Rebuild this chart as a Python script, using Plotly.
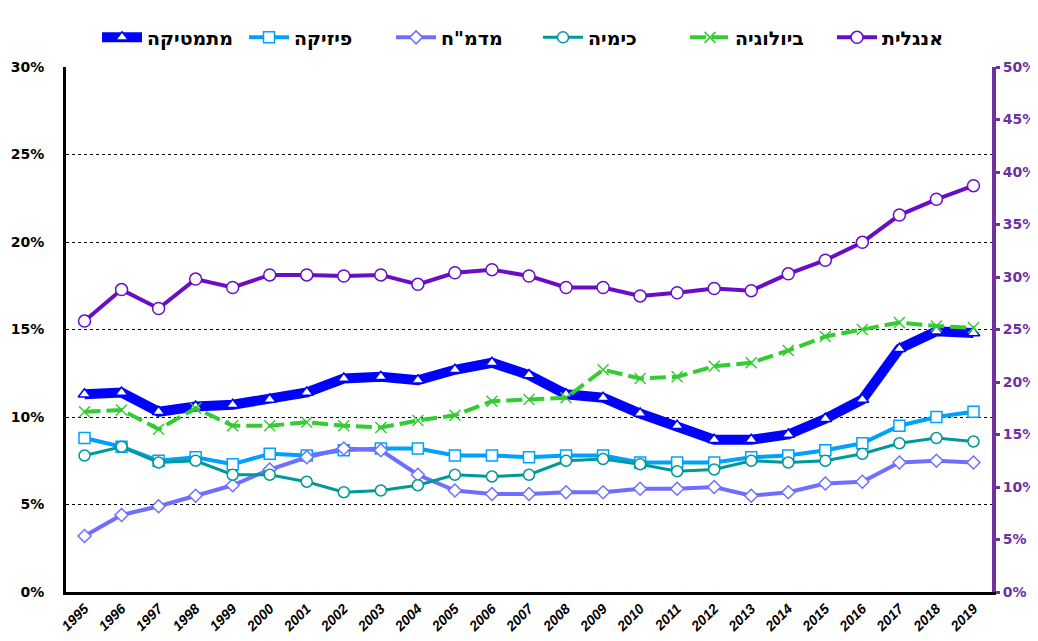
import plotly.graph_objects as go

years = [str(y) for y in range(1995, 2020)]

math_vals = [11.3, 11.4, 10.3, 10.6, 10.7, 11.0, 11.4, 12.2, 12.3, 12.1, 12.7, 13.1, 12.4,
             11.3, 11.1, 10.2, 9.5, 8.7, 8.7, 9.0, 9.9, 11.0, 13.9, 14.9, 14.8]
physics_vals = [8.8, 8.3, 7.5, 7.7, 7.3, 7.9, 7.8, 8.1, 8.2, 8.2, 7.8, 7.8, 7.7,
                7.8, 7.8, 7.4, 7.4, 7.4, 7.7, 7.8, 8.1, 8.5, 9.5, 10.0, 10.3]
cs_vals = [3.2, 4.4, 4.9, 5.5, 6.1, 7.0, 7.7, 8.2, 8.1, 6.7, 5.8, 5.6, 5.6,
           5.7, 5.7, 5.9, 5.9, 6.0, 5.5, 5.7, 6.2, 6.3, 7.4, 7.5, 7.4]
chem_vals = [7.8, 8.3, 7.4, 7.5, 6.7, 6.7, 6.3, 5.7, 5.8, 6.1, 6.7, 6.6, 6.7,
             7.5, 7.6, 7.3, 6.9, 7.0, 7.5, 7.4, 7.5, 7.9, 8.5, 8.8, 8.6]
bio_vals = [10.3, 10.4, 9.3, 10.5, 9.5, 9.5, 9.7, 9.5, 9.4, 9.8, 10.1, 10.9, 11.0,
            11.1, 12.7, 12.2, 12.3, 12.9, 13.1, 13.8, 14.6, 15.0, 15.4, 15.2, 15.1]
eng_vals = [25.8, 28.8, 27.0, 29.8, 29.0, 30.2, 30.2, 30.1, 30.2, 29.3, 30.4, 30.7, 30.1,
            29.0, 29.0, 28.2, 28.5, 28.9, 28.7, 30.3, 31.6, 33.3, 35.9, 37.4, 38.7]

names = ["מתמטיקה", "פיזיקה", 'מדמ"ח', "כימיה", "ביולוגיה", "אנגלית"]

fig = go.Figure()

def pct(v):
    return [x / 100 for x in v]

fig.add_trace(go.Scatter(x=years, y=pct(math_vals), name=names[0], mode="lines+markers",
                         line=dict(color="#0000FF", width=10),
                         marker=dict(symbol="triangle-up", size=11, color="white",
                                     line=dict(color="#0000FF", width=1.5))))
fig.add_trace(go.Scatter(x=years, y=pct(physics_vals), name=names[1], mode="lines+markers",
                         line=dict(color="#00A0FF", width=4),
                         marker=dict(symbol="square", size=11, color="white",
                                     line=dict(color="#00A0FF", width=1.5))))
fig.add_trace(go.Scatter(x=years, y=pct(cs_vals), name=names[2], mode="lines+markers",
                         line=dict(color="#6F6FFF", width=4),
                         marker=dict(symbol="diamond", size=10, color="white",
                                     line=dict(color="#6F6FFF", width=1.5))))
fig.add_trace(go.Scatter(x=years, y=pct(chem_vals), name=names[3], mode="lines+markers",
                         line=dict(color="#009999", width=3),
                         marker=dict(symbol="circle", size=11, color="white",
                                     line=dict(color="#009999", width=1.5))))
fig.add_trace(go.Scatter(x=years, y=pct(bio_vals), name=names[4], mode="lines+markers",
                         line=dict(color="#33CC33", width=4, dash="16px,6px"),
                         marker=dict(symbol="x-thin", size=11, color="#33CC33",
                                     line=dict(color="#33CC33", width=1.5))))
fig.add_trace(go.Scatter(x=years, y=pct(eng_vals), name=names[5], mode="lines+markers",
                         yaxis="y2",
                         line=dict(color="#6A0DC8", width=4),
                         marker=dict(symbol="circle", size=12, color="white",
                                     line=dict(color="#6A0DC8", width=1.5))))

ann_font = dict(family="DejaVu Sans", size=11, color="#0000FF", weight="bold")
fig.add_annotation(x=years[0], y=math_vals[0] / 100, text=f"{round(math_vals[0])}%",
                   showarrow=False, yshift=16, font=ann_font)
fig.add_annotation(x=years[18], y=math_vals[18] / 100, text=f"{round(math_vals[18])}%",
                   showarrow=False, yshift=16, font=ann_font)
fig.add_annotation(x=years[24], y=math_vals[24] / 100, text=f"{round(math_vals[24])}%",
                   showarrow=False, yshift=-16, font=ann_font)

fig.update_layout(
    width=1030, height=633,
    margin=dict(l=58, r=46, t=59, b=49, autoexpand=False),
    paper_bgcolor="white", plot_bgcolor="white",
    font=dict(family="DejaVu Sans", color="black"),
    showlegend=True,
    legend=dict(orientation="h", x=0.0335, xanchor="left", y=1.02, yanchor="bottom",
                entrywidth=92, entrywidthmode="pixels", traceorder="normal",
                font=dict(family="DejaVu Sans", size=19, color="black", weight="bold"),
                itemwidth=40),
    xaxis=dict(type="category", range=[-0.5, 24.5], showgrid=False,
               showline=True, linecolor="black", linewidth=3, ticks="",
               tickangle=-45,
               tickfont=dict(family="Liberation Sans", size=14, color="black",
                             weight="bold", style="italic")),
    yaxis=dict(range=[0, 0.30], dtick=0.05, tickformat=".0%",
               showgrid=True, gridcolor="black", griddash="dot", gridwidth=1,
               showline=True, linecolor="black", linewidth=3, ticks="",
               zeroline=False, ticklabelstandoff=16,
               tickfont=dict(family="DejaVu Sans", size=14, color="black", weight="bold")),
    yaxis2=dict(range=[0, 0.50], dtick=0.05, tickformat=".0%", overlaying="y",
                side="right", showgrid=False, zeroline=False,
                showline=True, linecolor="#7030A0", linewidth=4,
                ticks="outside", tickcolor="#7030A0", ticklen=4, tickwidth=3,
                tickfont=dict(family="DejaVu Sans", size=14, color="#7030A0", weight="bold")),
)

fig.write_html("out.html")
